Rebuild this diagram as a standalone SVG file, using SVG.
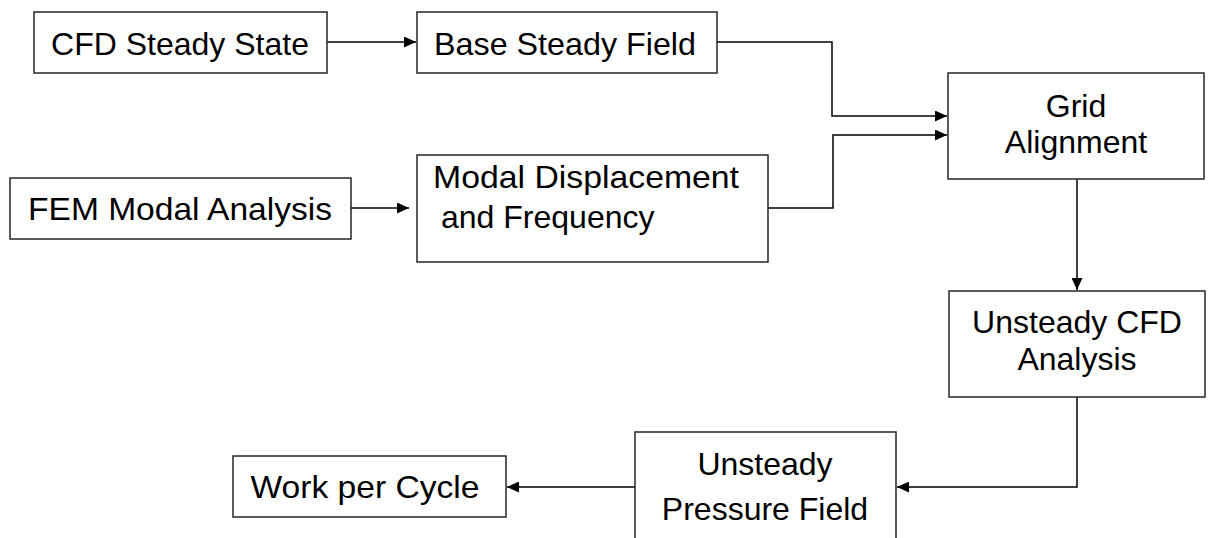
<svg xmlns="http://www.w3.org/2000/svg" width="1209" height="538" viewBox="0 0 1209 538">
<style>
.box{fill:#fff;stroke:#262626;stroke-width:1.5}
.t{font-family:"Liberation Sans",Arial,sans-serif;font-size:32px;fill:#000;text-anchor:middle}
.l{text-anchor:start}
.c{fill:none;stroke:#000;stroke-width:1.5}
</style>
<defs>
<marker id="ah" viewBox="0 0 12 11" refX="12" refY="5.5" markerWidth="12" markerHeight="11" markerUnits="userSpaceOnUse" orient="auto">
<path d="M0,0 L12,5.5 L0,11 Z" fill="#000"/>
</marker>
</defs>
<rect width="1209" height="538" fill="#fff"/>
<g id="connectors">
<path class="c" d="M327,42 H416" marker-end="url(#ah)"/>
<path class="c" d="M717,42 H832 V116 H947" marker-end="url(#ah)"/>
<path class="c" d="M351,208 H409" marker-end="url(#ah)"/>
<path class="c" d="M768,208 H833 V135 H947" marker-end="url(#ah)"/>
<path class="c" d="M1077,179 V290" marker-end="url(#ah)"/>
<path class="c" d="M1077,397 V487 H897" marker-end="url(#ah)"/>
<path class="c" d="M635,487 H507" marker-end="url(#ah)"/>
</g>
<g id="cfd-steady">
<rect class="box" x="34" y="12" width="293" height="61"/>
<text class="t" x="180" y="55">CFD Steady State</text>
</g>
<g id="base-steady">
<rect class="box" x="417" y="12" width="300" height="61"/>
<text class="t" x="565" y="55" textLength="262" lengthAdjust="spacingAndGlyphs">Base Steady Field</text>
</g>
<g id="fem-modal">
<rect class="box" x="10" y="178" width="341" height="61"/>
<text class="t" x="180" y="220" textLength="304" lengthAdjust="spacingAndGlyphs">FEM Modal Analysis</text>
</g>
<g id="modal-disp">
<rect class="box" x="417" y="155" width="351" height="107"/>
<text class="t l" x="433" y="188" textLength="306" lengthAdjust="spacingAndGlyphs">Modal Displacement</text>
<text class="t l" x="441" y="228">and Frequency</text>
</g>
<g id="grid-align">
<rect class="box" x="948" y="73" width="256" height="106"/>
<text class="t" x="1076" y="117">Grid</text>
<text class="t" x="1076" y="153">Alignment</text>
</g>
<g id="unsteady-cfd">
<rect class="box" x="949" y="291" width="256" height="106"/>
<text class="t" x="1077" y="333">Unsteady CFD</text>
<text class="t" x="1077" y="370">Analysis</text>
</g>
<g id="unsteady-pressure">
<rect class="box" x="635" y="432" width="261" height="120"/>
<text class="t" x="765" y="475">Unsteady</text>
<text class="t" x="765" y="520">Pressure Field</text>
</g>
<g id="work-cycle">
<rect class="box" x="233" y="456" width="273" height="61"/>
<text class="t" x="365" y="498" textLength="229" lengthAdjust="spacingAndGlyphs">Work per Cycle</text>
</g>
</svg>
